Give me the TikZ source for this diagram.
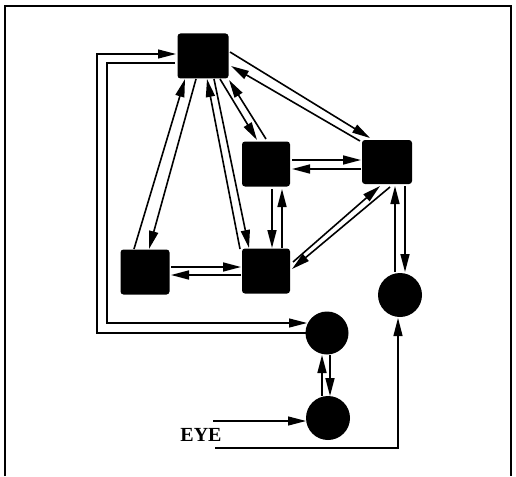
\documentclass[tikz,border=0pt]{standalone}
\usepackage{fontspec}
\setmainfont{Liberation Serif}
\usetikzlibrary{arrows.meta}
\begin{document}
\begin{tikzpicture}[x=1pt,y=-1pt,
  sq/.style={fill=black,draw=none,rounded corners=3pt,minimum width=#1,inner sep=0pt},
  blob/.style={circle,fill=black,draw=none,minimum size=44pt,inner sep=0pt},
  arr/.style={line width=1.6pt,-{Triangle[length=18pt,width=9pt]}},
  thinarr/.style={line width=1.2pt,-{Triangle[length=18pt,width=9pt]}}]
\useasboundingbox (0,0) rectangle (516,476);
\draw[line width=1.3pt] (5,476) -- (5,6) -- (511,6) -- (511,476);
% boxes
\node[sq=51pt,minimum height=45pt] (A) at (203,56) {};
\node[sq=48pt,minimum height=45pt] (B) at (266,164) {};
\node[sq=50pt,minimum height=44pt] (C) at (387,162) {};
\node[sq=49pt,minimum height=45pt] (D) at (145,272) {};
\node[sq=48pt,minimum height=45pt] (E) at (266,271) {};
\node[blob] (F) at (400,295) {};
\node[blob,minimum size=43pt] (G) at (327,333) {};
\node[blob] (H) at (328,418) {};
\node[font=\bfseries\fontsize{20}{22}\selectfont,inner sep=0pt] (eye) at (201,435) {EYE};
\coordinate (eyeA) at (213,421);
\coordinate (eyeB) at (215,448);
% A <-> C
\draw[arr] ([shift={(27,-4)}]A.center) -- ([shift={(-17,-24)}]C.center);
\draw[arr] ([shift={(-27,-21)}]C.center) -- ([shift={(28,10)}]A.center);
% A <-> B
\draw[arr] ([shift={(17,23)}]A.center) -- ([shift={(-9,-24)}]B.center);
\draw[arr] ([shift={(0,-25)}]B.center) -- ([shift={(26,24)}]A.center);
% A <-> D
\draw[arr] ([shift={(-7,23)}]A.center) -- ([shift={(4,-23)}]D.center);
\draw[arr] ([shift={(-11,-23)}]D.center) -- ([shift={(-18,23)}]A.center);
% A <-> E
\draw[arr] ([shift={(-26,-22)}]E.center) -- ([shift={(4,23)}]A.center);
\draw[arr] ([shift={(11,23)}]A.center) -- ([shift={(-17,-23)}]E.center);
% B <-> C
\draw[arr] ([shift={(26,-4)}]B.center) -- ([shift={(-26,-2)}]C.center);
\draw[arr] ([shift={(-26,7)}]C.center) -- ([shift={(26,5)}]B.center);
% B <-> E
\draw[arr] ([shift={(6,25)}]B.center) -- ([shift={(6,-23)}]E.center);
\draw[arr] ([shift={(16,-23)}]E.center) -- ([shift={(16,25)}]B.center);
% D <-> E
\draw[arr] ([shift={(26,-5)}]D.center) -- ([shift={(-25,-4)}]E.center);
\draw[arr] ([shift={(-25,4)}]E.center) -- ([shift={(26,3)}]D.center);
% E <-> C
\draw[arr] ([shift={(27,-9)}]E.center) -- ([shift={(-7,24)}]C.center);
\draw[arr] ([shift={(3,25)}]C.center) -- ([shift={(26,-2)}]E.center);
% C <-> F
\draw[arr] ([shift={(18,24)}]C.center) -- ([shift={(5,-23)}]F.center);
\draw[arr] ([shift={(-5,-23)}]F.center) -- ([shift={(8,24)}]C.center);
% G <-> H
\draw[arr] ([shift={(3,22)}]G.center) -- ([shift={(2,-22)}]H.center);
\draw[arr] ([shift={(-6,-22)}]H.center) -- ([shift={(-5,22)}]G.center);
% left loops
\draw[thinarr] ([shift={(-21,0)}]G.center) -| (97,54) -- ([shift={(-27,-2)}]A.center);
\draw[thinarr] ([shift={(-28,7)}]A.center) -| (107,323) -- ([shift={(-20,-10)}]G.center);
% eye
\draw[thinarr] (eyeA) -- ([shift={(-22,3)}]H.center);
\draw[thinarr] (eyeB) -| ([shift={(-2,23)}]F.center);
\end{tikzpicture}
\end{document}
